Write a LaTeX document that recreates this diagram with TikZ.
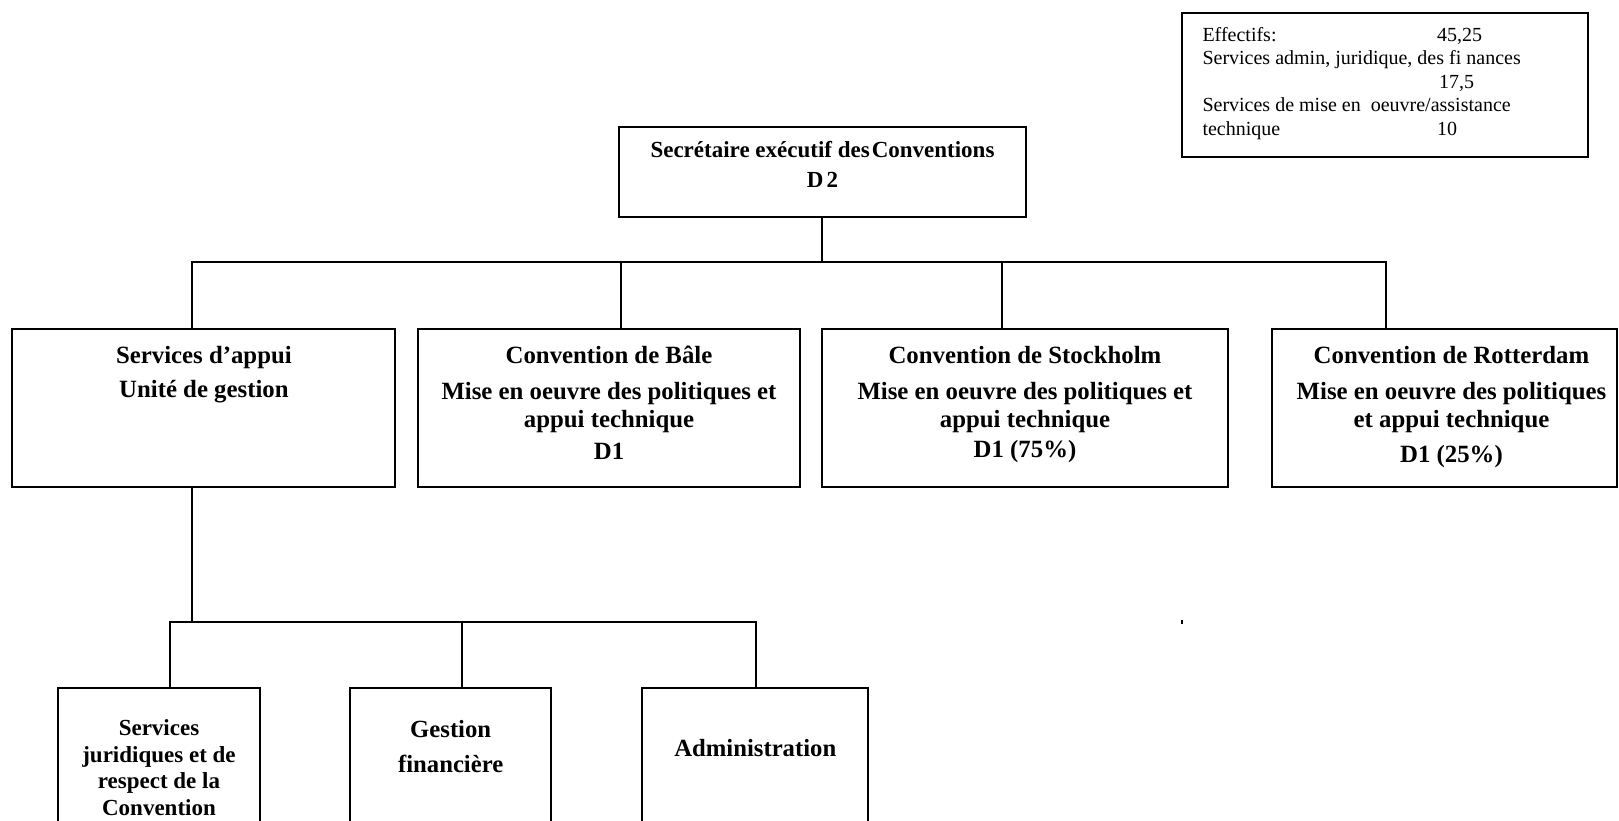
\documentclass[tikz,border=0pt]{standalone}
\usepackage{fontspec}
\setmainfont{Liberation Serif}
\usetikzlibrary{positioning}
\tikzset{
  every node/.style={inner sep=0pt},
  % boxes and connectors
  unit/.style={draw, line width=2pt, inner sep=0pt},
  link/.style={line width=2pt, line cap=rect},
  % texts
  headtxt/.style={align=center, font=\fontsize{23}{30}\selectfont\bfseries},
  rowtxt/.style={align=center, font=\fontsize{24.8}{28}\selectfont\bfseries},
  subtxt/.style={align=center, font=\fontsize{23}{26.5}\selectfont\bfseries},
  bigsubtxt/.style={align=center, font=\fontsize{24.7}{28}\selectfont\bfseries},
  stafftxt/.style={align=left, font=\fontsize{20}{23.5}\selectfont},
}

\begin{document}
\begin{tikzpicture}[x=1pt, y=1pt, node distance=0pt]
\useasboundingbox (0,0) rectangle (1619,-820);
\clip (0,0) rectangle (1619,-820);

% staff summary (top right)
\node[unit, minimum width=406pt, minimum height=144pt] (eff) at (1385,-85) {};
\node[stafftxt, anchor=north west] (effT) at (1202.3,-27)
  {\makebox[234.7pt][l]{Effectifs:}45,25\\
   Services admin, juridique, des fi nances\\
   \hspace*{236.7pt}17,5\\
   Services de mise en~ oeuvre/assistance\\
   \makebox[234.7pt][l]{technique}10};

% head of the secretariat
\node[unit, minimum width=407pt, minimum height=90pt] (sec) at (822.5,-172) {};
\node[headtxt, below=15pt of sec.north] (secT) {Secrétaire exécutif des\kern2pt Conventions\\D\kern3pt 2};

% second level
\node[unit, minimum width=383pt, minimum height=158pt] (appui) at (203.9,-407.5) {};
\node[unit, minimum width=382pt, minimum height=158pt] (bale)  at (609,-407.5) {};
\node[unit, minimum width=406pt, minimum height=158pt] (stock) at (1025,-407.5) {};
\node[unit, minimum width=345pt, minimum height=158pt] (rott)  at (1444.5,-407.5) {};

\node[rowtxt, below=18.5pt of appui.north] (appuiT) {Services d’appui\\[6pt]Unité de gestion};
\node[rowtxt, below=18.5pt of bale.north]  (baleT)
  {Convention de Bâle\\[8pt]Mise en oeuvre des politiques et\\appui technique\\[4pt]D1};
\node[rowtxt, below=18.5pt of stock.north] (stockT)
  {Convention de Stockholm\\[8pt]Mise en oeuvre des politiques et\\appui technique\\[2pt]D1 (75\%)};
\node[rowtxt, below=18.5pt of rott.north, xshift=7pt] (rottT)
  {Convention de Rotterdam\\[8pt]Mise en oeuvre des politiques\\et appui technique\\[7pt]D1 (25\%)};

% third level
\node[unit, minimum width=202.4pt, minimum height=152.4pt] (jur) at (159,-763.8) {};
\node[unit, minimum width=201.4pt, minimum height=152.4pt] (fin) at (450.7,-763.8) {};
\node[unit, minimum width=226pt,   minimum height=152.4pt] (adm) at (755.3,-763.8) {};

\node[subtxt, below=33pt of jur.north] (jurT) {Services\\juridiques et de\\respect de la\\Convention};
\node[bigsubtxt, below=34pt of fin.north] (finT) {Gestion\\[7pt]financière};
\node[bigsubtxt, below=53pt of adm.north] (admT) {Administration};

% connectors, upper tree
\coordinate (dSec)   at (822,-262);
\coordinate (busL)   at (192,-262);
\coordinate (busR)   at (1386,-262);
\coordinate (dBale)  at (620.5,-262);
\coordinate (dStock) at (1002,-262);
\draw[link] (dSec |- sec.south) -- (dSec);
\draw[link] (busL) -- (busR);
\draw[link] (busL) -- (busL |- appui.north);
\draw[link] (dBale) -- (dBale |- bale.north);
\draw[link] (dStock) -- (dStock |- stock.north);
\draw[link] (busR) -- (busR |- rott.north);

% connectors, lower tree
\coordinate (subL) at (170.4,-621.6);
\coordinate (subR) at (755.8,-621.6);
\coordinate (dFin) at (461.5,-621.6);
\draw[link] (busL |- appui.south) -- (busL |- subL);
\draw[link] (subL) -- (subR);
\draw[link] (subL) -- (subL |- jur.north);
\draw[link] (dFin) -- (dFin |- fin.north);
\draw[link] (subR) -- (subR |- adm.north);

% stray mark
\fill (1181,-620) rectangle (1183,-623.5);
\end{tikzpicture}
\end{document}
